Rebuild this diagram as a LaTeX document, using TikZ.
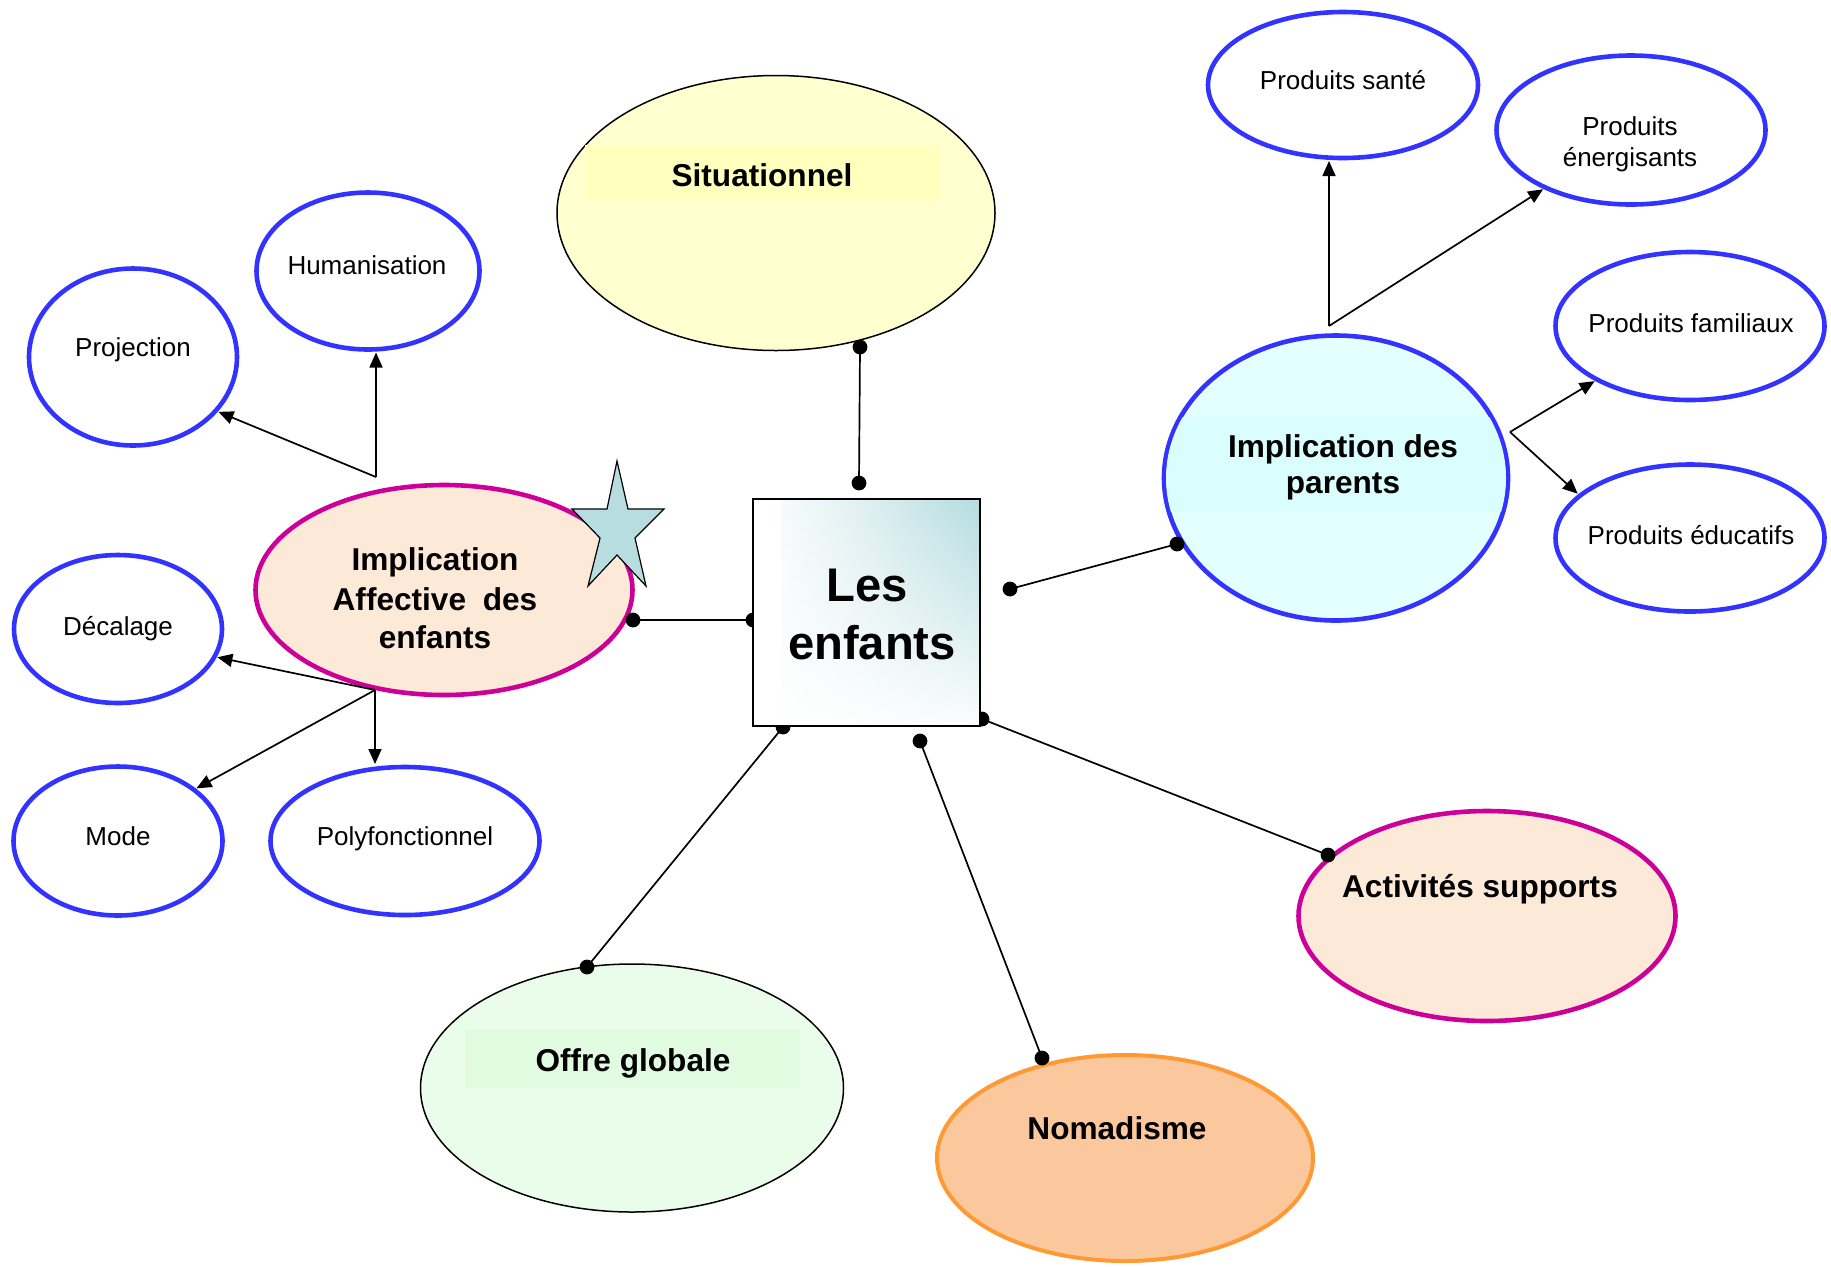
\documentclass[tikz,border=0pt]{standalone}
\usepackage{fontspec}
\setmainfont{Liberation Sans}
\usetikzlibrary{arrows.meta,shapes.geometric,fadings}

\definecolor{bordblue}{RGB}{51,51,255}
\definecolor{magentab}{RGB}{204,0,153}
\definecolor{orangeb}{RGB}{255,153,51}
\definecolor{peach}{RGB}{253,233,215}
\definecolor{orangefill}{RGB}{250,200,156}
\definecolor{yellowfill}{RGB}{255,255,208}
\definecolor{yellowband}{RGB}{255,255,190}
\definecolor{greenfill}{RGB}{234,253,234}
\definecolor{greenband}{RGB}{225,251,225}
\definecolor{cyanfill}{RGB}{228,255,255}
\definecolor{cyanband}{RGB}{218,253,254}
\definecolor{teal0}{RGB}{180,220,224}
\definecolor{starfill}{RGB}{183,221,224}

\begin{document}
\begin{tikzpicture}[x=0.5pt,y=-0.5pt,
  oval/.style={ellipse, inner sep=0pt, outer sep=0pt},
  sz/.style 2 args={minimum width=#1*0.5pt, minimum height=#2*0.5pt},
  leaf/.style={oval, draw=bordblue, line width=2.3pt, fill=white},
  hub/.style={oval, draw=magentab, line width=2.3pt, fill=peach},
  thinov/.style={oval, draw=black, line width=0.75pt},
  smalltxt/.style={font=\fontsize{13pt}{15.5pt}\selectfont, anchor=base, inner sep=0pt},
  bigtxt/.style={font=\fontsize{15.8pt}{19pt}\selectfont\bfseries, anchor=base, inner sep=0pt},
  hugetxt/.style={font=\fontsize{23.6pt}{29pt}\selectfont\bfseries, anchor=base, inner sep=0pt},
  link/.style={line width=0.85pt},
  branch/.style={line width=0.85pt, -{Triangle[length=7.5pt,width=6.5pt]}, shorten >=1.5pt},
  dotr/.style={fill=black}
]
\useasboundingbox (0,0) rectangle (1831,1266);
\fill[white] (0,0) rectangle (1831,1266);

% ---- main themes ----
\node[thinov, fill=yellowfill, sz={438}{275}] (sit) at (776,213) {};
\fill[yellowband] (585,145) rectangle (940,202);
\node[hub, sz={377}{210}] (aff) at (444,590) {};
\node[oval, draw=bordblue, line width=2.3pt, fill=cyanfill, sz={344}{285}] (par) at (1336,478) {};
\begin{scope}
  \clip (1336,478) ellipse [x radius=170, y radius=141];
  \fill[cyanband] (1150,417) rectangle (1520,512);
\end{scope}
\node[hub, sz={377}{210}] (act) at (1487,916) {};
\node[oval, draw=orangeb, line width=2pt, fill=orangefill, sz={376}{206}] (nom) at (1125,1158) {};
\node[thinov, fill=greenfill, sz={423}{248}] (off) at (632,1088) {};
\fill[greenband] (465,1030) rectangle (800,1088);

% ---- sub themes ----
\node[leaf, sz={208}{177}] (proj) at (133,357) {};
\node[leaf, sz={223}{157}] (hum) at (368,271) {};
\node[leaf, sz={208}{148}] (dec) at (118,629) {};
\node[leaf, sz={209}{149}] (mode) at (118,841) {};
\node[leaf, sz={269}{148}] (poly) at (405,841) {};
\node[leaf, sz={270}{146}] (sante) at (1343,85) {};
\node[leaf, sz={269}{149}] (ener) at (1631,130) {};
\node[leaf, sz={269}{148}] (fam) at (1690,326) {};
\node[leaf, sz={269}{147}] (edu) at (1690,538) {};

% ---- labels ----
\node[bigtxt] (sitT) at (762,186) {Situationnel};
\node[bigtxt] (affT1) at (435,570) {Implication};
\node[bigtxt] (affT2) at (435,610) {Affective\hspace{0.53em}des};
\node[bigtxt] (affT3) at (435,648) {enfants};
\node[bigtxt] (parT1) at (1343,457) {Implication des};
\node[bigtxt] (parT2) at (1343,493) {parents};
\node[bigtxt] (actT) at (1480,897) {Activités supports};
\node[bigtxt] (nomT) at (1117,1139) {Nomadisme};
\node[bigtxt] (offT) at (633,1071) {Offre globale};

\node[smalltxt] (projT) at (133,356) {Projection};
\node[smalltxt] (humT) at (367,274) {Humanisation};
\node[smalltxt] (decT) at (118,635) {Décalage};
\node[smalltxt] (modeT) at (118,845) {Mode};
\node[smalltxt] (polyT) at (405,845) {Polyfonctionnel};
\node[smalltxt] (santeT) at (1343,89) {Produits santé};
\node[smalltxt] (enerT1) at (1630,135) {Produits};
\node[smalltxt] (enerT2) at (1630,166) {énergisants};
\node[smalltxt] (famT) at (1691,332) {Produits familiaux};
\node[smalltxt] (eduT) at (1691,544) {Produits éducatifs};

% ---- branching arrows ----
\coordinate (j1) at (376,477);
\coordinate (j2) at (375,690);
\coordinate (j3) at (1329,326);
\coordinate (j4) at (1510,432);
\draw[branch] (j1) -- (j1 |- hum.south);
\draw[branch] (j1) -- (proj.-33);
\draw[branch] (j2) -- (dec.-16);
\draw[branch] (j2) -- (mode.34);
\draw[branch] (j2) -- (j2 |- poly.north);
\draw[branch] (j3) -- (j3 |- sante.south);
\draw[branch] (j3) -- (ener.-146);
\draw[branch] (j4) -- (fam.-150);
\draw[branch] (j4) -- (edu.159);

% ---- links to the centre ----
\coordinate (sitA) at (860,347);  \coordinate (boxN) at (859,483);
\coordinate (affA) at (633,620);  \coordinate (boxW) at (753,620);
\coordinate (parA) at (1177,544); \coordinate (boxE) at (1010,589);
\coordinate (actA) at (1328,855); \coordinate (boxSE) at (982,719);
\coordinate (nomA) at (1042,1058);\coordinate (boxS) at (920,741);
\coordinate (offA) at (587,967);  \coordinate (boxSW) at (783,727);
\foreach \a/\b in {sitA/boxN, affA/boxW, parA/boxE, actA/boxSE, nomA/boxS, offA/boxSW}{
  \draw[link] (\a) -- (\b);
  \fill[dotr] (\a) circle (3.7pt);
  \fill[dotr] (\b) circle (3.7pt);
}

% ---- centre box: teal towards the upper right, fading to white ----
\node[minimum width=113.5pt, minimum height=113.5pt, inner sep=0pt,
      left color=white, right color=teal0, middle color=white!55!teal0] (box) at (866.5,612.5) {};
\fill[white, path fading=north, fill opacity=0.95] (box.south west) rectangle (box.north east);
\fill[white] (box.south west) rectangle ([xshift=14pt]box.north west);
\draw[line width=1pt] (box.south west) rectangle (box.north east);
\node[hugetxt] (boxT1) at (867,601) {Les};
\node[hugetxt] (boxT2) at (872,659) {enfants};

% ---- star ----
\draw[fill=starfill, line width=0.6pt, line join=miter]
  (617,461) -- (628,509) -- (664,509) -- (635,538) -- (646,586) -- (617,555)
  -- (588,586) -- (600,538) -- (572,509) -- (607,509) -- cycle;
\end{tikzpicture}
\end{document}
